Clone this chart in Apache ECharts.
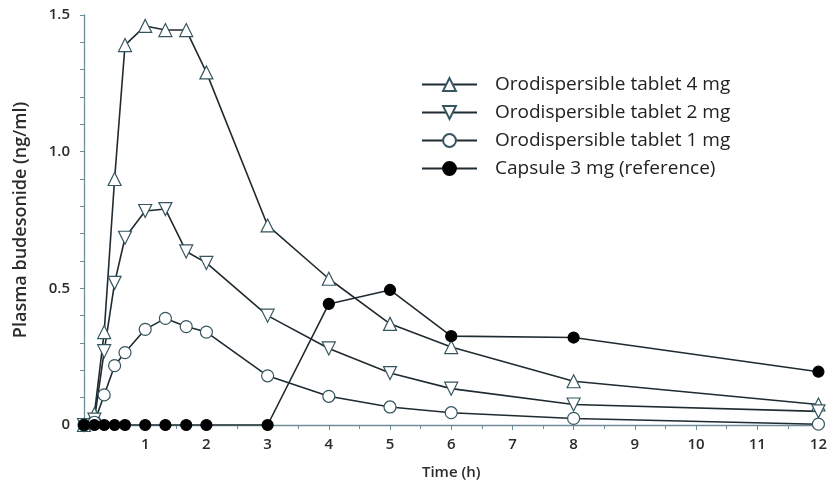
<!DOCTYPE html>
<html>
<head>
<meta charset="utf-8">
<script src="https://cdn.jsdelivr.net/npm/echarts@6/dist/echarts.min.js"></script>
<style>
  html, body { margin: 0; padding: 0; background: #fff; }
  #chart { width: 830px; height: 485px; }
</style>
</head>
<body>
<div id="chart"></div>
<script>
// sampling times (h)
const times = [0, 0.17, 0.33, 0.5, 0.67, 1, 1.33, 1.67, 2, 3, 4, 5, 6, 8, 12]

// plasma budesonide (ng/ml)
const odt4mg = [0, 0.04, 0.34, 0.90, 1.39, 1.46, 1.445, 1.445, 1.29, 0.73, 0.535, 0.37, 0.285, 0.16, 0.075]
const odt2mg = [0, 0.02, 0.27, 0.52, 0.685, 0.783, 0.79, 0.635, 0.593, 0.40, 0.28, 0.19, 0.133, 0.075, 0.05]
const odt1mg = [0, 0.01, 0.11, 0.217, 0.265, 0.35, 0.39, 0.36, 0.34, 0.18, 0.105, 0.066, 0.045, 0.024, 0.003]
const capsule3mg = [0, 0, 0, 0, 0, 0, 0, 0, 0, 0, 0.443, 0.494, 0.325, 0.32, 0.195]

const seriesNames = [
  'Orodispersible tablet 4 mg',
  'Orodispersible tablet 2 mg',
  'Orodispersible tablet 1 mg',
  'Capsule 3 mg (reference)'
]

const lineColor = '#1f2b30'
const markerEdge = '#35555f'
const labelFont = { color: '#2b2b2b', fontFamily: 'Open Sans', fontWeight: 600, fontSize: 15 }

const toPoints = (vals) => times.map((t, i) => [t, vals[i]])

const makeSeries = (name, vals, symbol, rotate, fill, size) => ({
  name,
  type: 'line',
  data: toPoints(vals),
  symbol,
  symbolSize: size,
  symbolRotate: rotate,
  showAllSymbol: true,
  lineStyle: { color: lineColor, width: 1.6 },
  itemStyle: { color: fill, borderColor: fill === '#fff' ? markerEdge : '#000', borderWidth: 1.2 },
  emphasis: { disabled: true }
})

const chart = echarts.init(document.getElementById('chart'))
chart.setOption({
  animation: false,
  grid: { left: 84, right: 7, top: 15, bottom: 55 },
  legend: {
    orient: 'vertical',
    left: 416,
    top: 70,
    itemWidth: 55,
    itemHeight: 16,
    itemGap: 9,
    textStyle: { fontFamily: 'Open Sans', fontSize: 19, color: '#222', padding: [0, 0, 0, 13] },
    data: seriesNames
  },
  xAxis: {
    type: 'value',
    min: 0,
    max: 12,
    interval: 1,
    name: 'Time (h)',
    nameLocation: 'middle',
    nameGap: 40,
    nameTextStyle: labelFont,
    axisLine: { lineStyle: { color: '#6f8d99', width: 1.3 } },
    axisTick: { length: 5, lineStyle: { color: '#6f8d99' } },
    minorTick: { show: true, splitNumber: 2, length: 4, lineStyle: { color: '#6f8d99' } },
    axisLabel: { ...labelFont, margin: 12, formatter: (v) => (v === 0 ? '' : String(v)) },
    splitLine: { show: false }
  },
  yAxis: {
    type: 'value',
    min: 0,
    max: 1.5,
    interval: 0.5,
    name: 'Plasma budesonide (ng/ml)',
    nameLocation: 'middle',
    nameGap: 54,
    nameTextStyle: { ...labelFont, fontSize: 18 },
    axisLine: { show: true, lineStyle: { color: '#6f8d99', width: 1.3 } },
    axisTick: { show: true, length: 4, lineStyle: { color: '#6f8d99' } },
    minorTick: { show: true, splitNumber: 5, length: 4, lineStyle: { color: '#6f8d99' } },
    axisLabel: { ...labelFont, margin: 14, formatter: (v) => (v === 0 ? '0' : v.toFixed(1)) },
    splitLine: { show: false }
  },
  series: [
    makeSeries(seriesNames[0], odt4mg, 'triangle', 0, '#fff', 13),
    makeSeries(seriesNames[1], odt2mg, 'triangle', 180, '#fff', 13),
    makeSeries(seriesNames[2], odt1mg, 'circle', 0, '#fff', 12),
    makeSeries(seriesNames[3], capsule3mg, 'circle', 0, '#000', 11)
  ]
})
</script>
</body>
</html>
